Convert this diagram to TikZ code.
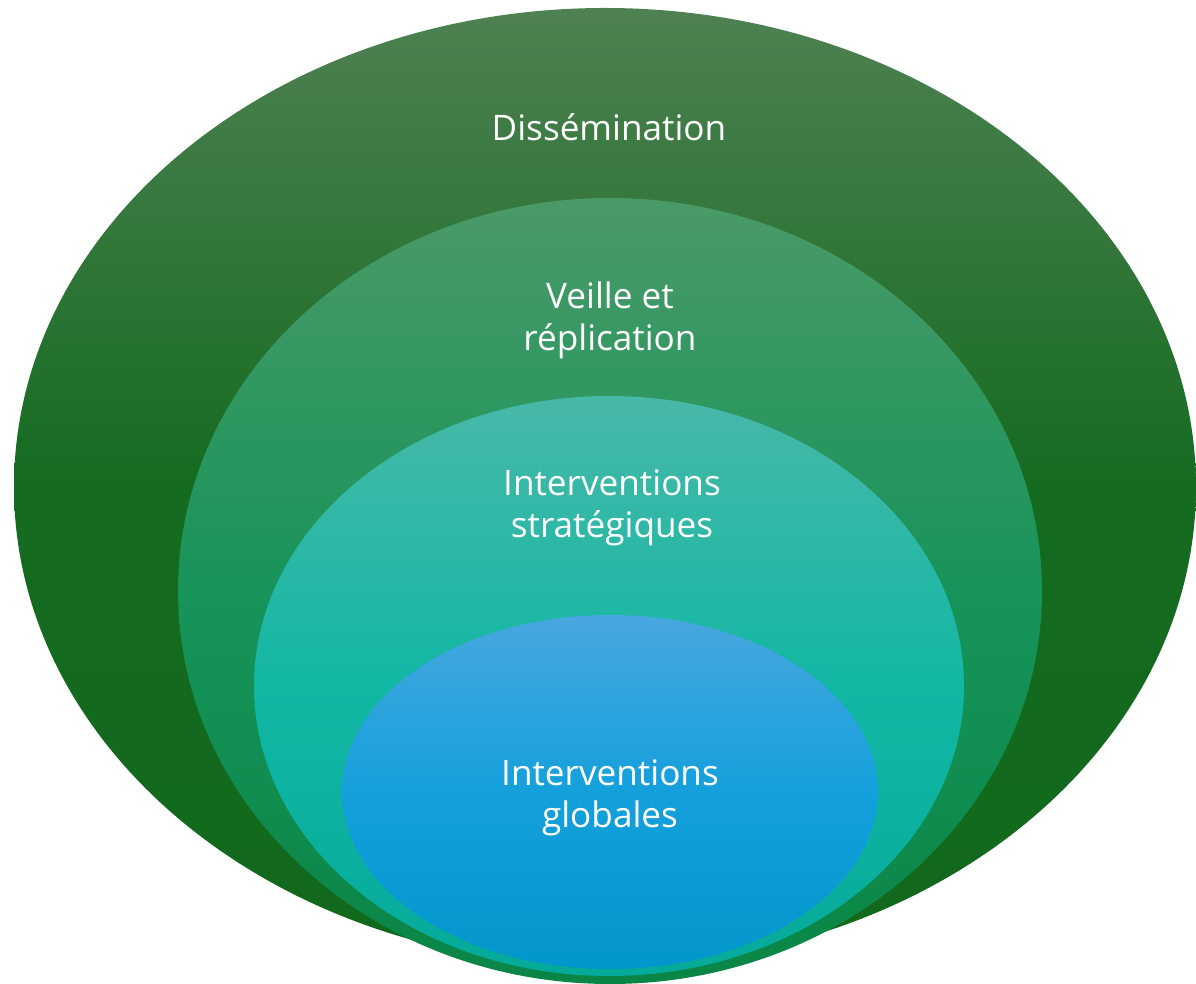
\documentclass[tikz,border=0pt]{standalone}
\usepackage{fontspec}
\setmainfont{Open Sans}
\usepackage{tikz}
\usetikzlibrary{positioning}
\usepackage{xcolor}

\definecolor{dissTop}{HTML}{4E8152}
\definecolor{dissMid}{HTML}{156B20}
\definecolor{dissBot}{HTML}{11691C}
\definecolor{veilTop}{HTML}{4A9A68}
\definecolor{veilMid}{HTML}{17945A}
\definecolor{veilBot}{HTML}{098545}
\definecolor{stratTop}{HTML}{48B8A8}
\definecolor{stratMid}{HTML}{12B7A4}
\definecolor{stratBot}{HTML}{06AA9A}
\definecolor{globTop}{HTML}{48A7DE}
\definecolor{globMid}{HTML}{14A0DC}
\definecolor{globBot}{HTML}{0396CC}

\begin{document}
\begin{tikzpicture}[font=\fontsize{20}{24}\selectfont,
  ringtext/.style={text=white,align=center,inner sep=0pt}]
\useasboundingbox (0,0) rectangle (23.92,19.68);
\shade[top color=dissTop,bottom color=dissBot,middle color=dissMid] (12.10,9.94) ellipse [x radius=11.82,y radius=9.58];
\shade[top color=veilTop,bottom color=veilBot,middle color=veilMid] (12.20,7.86) ellipse [x radius=8.64,y radius=7.86];
\shade[top color=stratTop,bottom color=stratBot,middle color=stratMid] (12.18,5.96) ellipse [x radius=7.10,y radius=5.80];
\shade[top color=globTop,bottom color=globBot,middle color=globMid] (12.20,3.84) ellipse [x radius=5.36,y radius=3.54];
\node[ringtext] (diss) at (12.18,17.14) {Dissémination};
\node[ringtext] (veil) at (12.20,13.28) {Veille et\\réplication};
\node[ringtext] (strat) at (12.24,9.52) {Interventions\\stratégiques};
\node[ringtext] (glob) at (12.20,3.72) {Interventions\\globales};
\end{tikzpicture}
\end{document}
